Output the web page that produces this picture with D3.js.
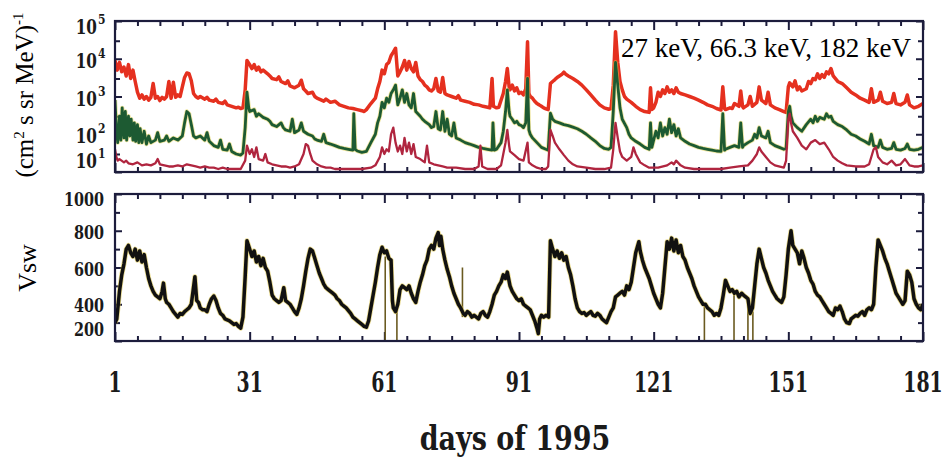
<!DOCTYPE html>
<html>
<head>
<meta charset="utf-8">
<script src="https://cdn.jsdelivr.net/npm/d3@7/dist/d3.min.js"></script>
<style>
  html, body { margin: 0; padding: 0; background: #fff; }
  svg { display: block; }
  .num { font-family: "DejaVu Serif Condensed", "DejaVu Serif", serif; font-weight: bold; font-stretch: condensed; fill: #1a1a1a; }
  .serif { font-family: "Liberation Serif", "Times New Roman", serif; fill: #000; }
</style>
</head>
<body>
<svg id="chart" width="945" height="465"></svg>
<script>
// ---- axis ticks and labels ----
const dayTicks = [1, 31, 61, 91, 121, 151, 181];
const fluxTicks = [1e5, 1e4, 1e3, 1e2, 1e1];
const fluxExponents = ["5", "4", "3", "2", "1"];
const fluxMinorTicks = [3e4, 3e3, 3e2, 3e1];
const vswTicks = [1000, 800, 600, 400, 200];
const vswMinorTicks = [900, 700, 500, 300];
const energyLabel = "27 keV, 66.3 keV, 182 keV";
const xTitle = "days of 1995";

// ---- 27 keV intensity, [day, (cm2 s sr MeV)^-1] ----
const flux27 = [
[1,9000],[1.5,5000],[2,8000],[2.5,4500],[3,6000],[3.5,3500],[4,7000],[4.5,3000],[5,5000],[5.5,2500],[6,1300],[6.5,900],[7,1100],[7.5,850],[8,1000],[8.5,800],[9,950],[9.5,2200],[10,900],[10.5,1000],[11,780],[11.5,950],[12,850],[12.5,1000],[13,2500],[13.5,900],[14,2400],[14.5,950],[15,1100],[15.5,1000],[16,1800],[16.5,3200],[17,4200],[17.5,4000],[18,2600],[18.5,1200],[19,1000],[19.5,900],[20,1000],[21,850],[21.5,950],[22,800],[23,750],[23.5,850],[24,700],[25,650],[25.5,750],[26,600],[27,550],[28,500],[28.5,520],[29,480],[29.5,500],[30,1500],[30.4,9000],[31,7000],[31.5,5500],[32,7000],[32.5,5000],[33,6000],[33.5,4500],[34,5000],[35,4000],[35.5,3500],[36,3000],[37,2800],[37.5,3300],[38,2500],[39,2200],[39.5,2600],[40,1900],[41,1700],[42,2000],[42.5,2700],[43,1600],[43.5,1400],[44,1200],[45,1300],[45.5,1000],[46,900],[47,800],[47.5,750],[48,850],[49,700],[50,750],[51,600],[52,550],[53,500],[54,480],[55,450],[56,420],[56.5,400],[57,450],[58,650],[59,900],[59.5,1600],[60,2500],[60.5,5000],[61,4000],[61.5,7000],[62,8000],[62.5,12000],[63,15000],[63.5,19000],[64,3500],[64.5,4500],[65,6000],[65.5,9000],[66,5000],[66.5,8500],[67,5500],[67.5,4500],[68,8000],[68.5,3500],[69,2800],[69.5,2500],[70,2000],[70.5,1800],[71,1500],[71.5,1400],[72,1600],[72.5,3000],[73,1400],[73.5,1300],[74,3200],[74.5,1200],[75,1100],[76,1000],[77,900],[77.5,1050],[78,800],[79,750],[80,700],[81,620],[82,600],[83,550],[84,520],[84.5,500],[85,3000],[85.3,550],[86,500],[86.5,520],[87,800],[87.5,1200],[88,2500],[88.4,5500],[88.8,1800],[89,1500],[89.5,2000],[90,1400],[90.5,1700],[91,1200],[91.5,1300],[92,1100],[92.5,1600],[92.9,28000],[93.2,1200],[93.5,1000],[94,900],[94.5,750],[95,650],[95.5,600],[96,550],[96.5,500],[97,470],[97.5,450],[98,2200],[98.5,2500],[99,2800],[99.5,3200],[100,3500],[100.5,3800],[101,4400],[101.5,3800],[102,3500],[103,3000],[104,2500],[105,2000],[106,1500],[107,1100],[108,800],[109,600],[110,500],[111,460],[111.5,480],[112,2000],[112.5,52000],[113,8000],[113.5,2500],[114,1500],[114.5,1000],[115,850],[116,700],[117,550],[118,450],[119,400],[120,380],[120.3,1700],[120.6,450],[121,500],[121.5,700],[122,1300],[122.5,1000],[123,1500],[123.5,1200],[124,1800],[124.5,1300],[125,1500],[125.5,1200],[126,1700],[126.5,1300],[127,1200],[128,1100],[129,1000],[130,900],[131,800],[132,700],[133,600],[134,550],[135,480],[136,440],[136.4,1800],[136.8,480],[137,450],[138,500],[138.5,480],[139,650],[140,550],[140.4,1400],[140.8,550],[141,500],[142,600],[142.5,1000],[143,550],[144,700],[144.5,1800],[145,800],[146,650],[146.5,1300],[147,600],[148,500],[149,450],[150,400],[150.5,380],[151,1800],[151.3,2300],[152,1800],[152.5,2600],[153,1500],[153.5,1800],[154,1400],[155,1600],[155.5,2500],[156,2200],[156.5,3000],[157,2800],[157.5,4000],[158,3000],[158.5,3800],[159,3200],[159.5,4500],[160,4000],[160.5,5500],[161,3500],[162,2500],[163,2200],[164,1700],[165,1300],[166,1100],[167,900],[168,800],[169,700],[169.5,1600],[170,700],[171,800],[171.5,1300],[172,750],[173,650],[174,700],[174.5,1200],[175,650],[176,600],[177,700],[177.5,1100],[178,600],[179,500],[180,550],[181,650]
];

// ---- 66.3 keV intensity ----
const flux66 = [
[1,800],[1.3,150],[1.6,60],[2,300],[2.3,70],[2.6,500],[3,80],[3.3,400],[3.6,70],[4,300],[4.3,90],[4.6,250],[5,70],[5.3,200],[5.6,65],[6,180],[6.3,60],[6.6,140],[7,60],[7.5,120],[8,55],[8.5,90],[9,60],[10,70],[10.5,110],[11,65],[12,70],[12.5,90],[13,65],[14,80],[15,70],[16,90],[16.5,200],[17,400],[17.5,350],[18,180],[18.5,90],[19,80],[20,90],[21,70],[21.5,110],[22,65],[23,50],[24,45],[24.5,70],[25,40],[26,38],[26.5,55],[27,35],[28,30],[29,28],[29.5,32],[30,150],[30.4,1300],[30.8,500],[31,400],[32,450],[32.5,300],[33,350],[34,280],[35,250],[35.5,220],[36,180],[37,160],[38,200],[38.5,150],[39,130],[40,120],[40.5,250],[41,110],[42,130],[42.5,200],[43,120],[44,100],[45,90],[45.5,75],[46,70],[47,65],[47.5,100],[48,60],[49,55],[50,50],[51,45],[52,42],[53,40],[54,38],[54.2,350],[54.5,40],[55,36],[56,33],[57,35],[58,60],[59,100],[59.5,200],[60,300],[60.5,700],[61,500],[61.5,900],[62,700],[62.5,1200],[63,1500],[63.5,2000],[64,600],[64.5,900],[65,1500],[65.5,700],[66,1200],[66.5,600],[67,500],[67.5,1200],[68,400],[69,300],[69.5,250],[70,220],[71,180],[71.5,150],[72,160],[72.5,400],[73,140],[73.5,130],[74,400],[74.5,120],[75,250],[75.5,100],[76,90],[76.5,200],[77,80],[78,70],[79,60],[80,55],[81,50],[82,45],[83,42],[84,40],[85,38],[85.2,200],[85.5,38],[86,40],[87,60],[87.5,120],[88,400],[88.4,1500],[88.8,400],[89,300],[89.5,250],[90,200],[90.5,220],[91,180],[91.5,170],[92,150],[92.5,200],[92.9,3000],[93.2,130],[93.5,100],[94,80],[95,60],[96,45],[97,40],[97.5,38],[98,360],[98.5,250],[99,220],[100,200],[101,180],[102,170],[103,155],[104,140],[105,120],[106,100],[107,80],[108,65],[109,50],[110,42],[111,40],[111.5,45],[112,400],[112.5,8000],[113,2000],[113.5,500],[114,250],[115,150],[115.5,100],[116,80],[117,65],[118,55],[119,45],[120,40],[120.3,200],[120.6,45],[121,70],[121.5,120],[122,80],[122.5,200],[123,90],[123.5,150],[124,100],[124.5,250],[125,110],[125.5,180],[126,90],[126.5,140],[127,80],[128,65],[129,55],[130,50],[131,45],[132,42],[133,40],[134,38],[135,36],[136,35],[136.4,350],[136.8,38],[137,40],[138,45],[139,50],[140,45],[140.4,200],[140.8,45],[141,50],[142,60],[143,70],[143.5,100],[144,80],[144.5,150],[145,90],[146,80],[146.5,120],[147,60],[148,50],[149,45],[150,40],[150.5,42],[151,400],[151.3,550],[151.6,300],[152,200],[153,150],[154,120],[155,180],[156,250],[156.5,200],[157,300],[157.5,220],[158,280],[159,250],[159.5,350],[160,280],[160.5,300],[161,220],[162,180],[163,160],[164,130],[165,100],[166,90],[167,75],[168,65],[169,55],[169.5,100],[170,50],[171,45],[171.5,70],[172,45],[173,40],[174,42],[174.5,60],[175,40],[176,38],[177,42],[177.5,55],[178,40],[179,38],[180,40],[181,45]
];

// ---- 182 keV intensity ----
const flux182 = [
[1,40],[1.3,25],[1.6,20],[2,22],[3,18],[3.5,20],[4,17],[5,16],[6,18],[7,15],[8,16],[9,15],[10,17],[10.5,22],[11,16],[12,15],[13,14],[14,14],[15,15],[16,14],[17,16],[18,15],[19,14],[20,13],[21,14],[22,13],[23,13],[24,12],[25,13],[26,12],[27,12],[28,12],[29,12],[30,20],[30.4,50],[31,30],[31.5,40],[32,25],[32.5,45],[33,22],[34,20],[34.5,30],[35,18],[36,16],[37,15],[38,14],[39,14],[40,13],[41,14],[42,16],[43,30],[43.5,55],[44,50],[44.5,30],[45,20],[46,16],[47,14],[48,13],[49,13],[50,12],[52,12],[54,12],[56,12],[58,13],[59,15],[60,25],[60.5,45],[61,30],[61.5,40],[62,35],[62.5,100],[63,150],[63.5,60],[64,35],[64.5,50],[65,30],[65.5,80],[66,35],[66.5,60],[67,30],[67.5,55],[68,25],[69,22],[70,18],[70.5,50],[71,18],[72,16],[73,15],[74,14],[75,13],[77,13],[79,12],[81,12],[82,14],[82.4,50],[82.8,14],[84,12],[86,12],[87,15],[87.5,30],[88,60],[88.4,130],[88.8,50],[89,35],[90,28],[91,22],[92,20],[92.9,60],[93.2,18],[94,15],[95,13],[96,12],[97,12],[97.5,14],[98,130],[98.5,90],[99,60],[100,40],[101,28],[102,20],[103,16],[104,14],[106,13],[108,12],[110,12],[111.5,13],[112,40],[112.5,200],[113,80],[113.5,35],[114,25],[115,20],[116,25],[116.5,45],[117,30],[118,18],[119,15],[120,13],[122,13],[124,15],[125,18],[125.5,16],[126,20],[127,15],[128,13],[130,12],[133,12],[136,12],[138,13],[140,14],[142,15],[143,20],[144,30],[144.5,45],[145,35],[146,25],[147,18],[148,15],[150,13],[150.5,20],[151,250],[151.3,350],[151.6,200],[152,120],[153,80],[154,50],[155,40],[156,60],[157,70],[158,55],[159,60],[160,40],[161,25],[162,20],[163,17],[164,15],[166,14],[168,14],[169,16],[170,40],[170.5,45],[171,25],[172,18],[173,16],[174,20],[175,15],[176,16],[177,22],[178,15],[179,14],[180,14],[181,15]
];

// ---- solar wind speed, [day, km/s] ----
const vsw = [
[1,300],[1.4,320],[2,470],[2.5,560],[3,620],[3.5,700],[4,720],[4.5,680],[5,660],[5.5,700],[6,640],[6.5,690],[7,630],[7.5,670],[8,600],[8.5,540],[9,500],[9.5,470],[10,450],[10.5,440],[11,430],[11.5,470],[11.8,515],[12.2,430],[12.5,410],[13,400],[13.5,380],[14,360],[14.5,345],[15,330],[15.5,350],[16,345],[16.5,360],[17,370],[17.5,380],[18,400],[18.8,550],[19.2,420],[19.6,410],[20,380],[20.5,370],[21,370],[21.5,360],[22,400],[22.5,430],[23,445],[23.5,420],[24,380],[24.5,350],[25,340],[25.5,320],[26,315],[26.5,310],[27,300],[27.5,290],[28,295],[28.5,280],[29,270],[29.5,330],[30,550],[30.4,745],[31,700],[31.5,660],[32,690],[32.5,630],[33,660],[33.5,610],[34,650],[34.5,600],[35,580],[35.5,520],[36,450],[36.5,430],[37,420],[37.5,410],[38,420],[38.6,490],[39,420],[39.5,410],[40,400],[40.5,380],[41,360],[41.5,345],[42,380],[42.5,430],[43,500],[43.5,580],[44,650],[44.5,700],[45,690],[45.5,650],[46,610],[46.5,570],[47,540],[47.5,510],[48,490],[48.5,480],[49,470],[49.5,460],[50,450],[50.5,430],[51,420],[51.5,400],[52,390],[52.5,380],[53,365],[53.5,350],[54,330],[54.5,320],[55,310],[55.5,300],[56,290],[56.5,280],[57,275],[57.5,310],[58,380],[58.5,450],[59,520],[59.5,600],[60,670],[60.5,710],[61,680],[61.5,690],[62,650],[62.5,640],[62.8,420],[63,380],[63.5,360],[64,400],[64.5,480],[65,500],[65.5,490],[66,480],[66.5,500],[67,460],[67.5,430],[68,410],[68.5,470],[69,520],[69.5,560],[70,610],[70.5,640],[71,700],[71.5,720],[72,700],[72.5,760],[73,790],[73.3,720],[73.6,770],[74,700],[74.5,640],[75,590],[75.5,550],[76,500],[76.5,460],[77,430],[77.5,400],[78,380],[78.6,350],[79,340],[79.5,360],[80,350],[80.5,330],[81,340],[81.5,330],[82,320],[82.5,350],[83,360],[83.5,340],[84,330],[84.5,360],[85,400],[85.5,450],[86,470],[86.5,500],[87,520],[87.5,560],[88,540],[88.4,575],[89,500],[89.5,470],[90,450],[90.5,430],[91,420],[91.5,430],[92,400],[92.5,390],[93,380],[93.5,370],[94,340],[94.5,310],[95,270],[95.3,240],[95.6,320],[96,340],[96.5,330],[97,340],[97.6,330],[98,745],[98.5,700],[99,660],[99.5,690],[100,650],[100.5,680],[101,640],[101.5,660],[102,600],[102.5,560],[103,500],[103.5,430],[104,380],[104.5,360],[105,350],[105.5,355],[106,340],[106.5,350],[107,360],[107.5,340],[108,335],[108.5,350],[109,340],[109.5,320],[110,310],[110.5,300],[111,330],[111.5,360],[112,380],[112.5,440],[113,450],[113.5,460],[114,470],[114.5,450],[115,500],[115.5,480],[116,520],[116.5,600],[117,680],[117.7,740],[118,690],[118.5,640],[119,600],[119.5,570],[120,540],[120.5,500],[121,460],[121.5,430],[122,400],[122.5,380],[123,460],[123.5,600],[124,740],[124.5,700],[125,760],[125.5,690],[126,750],[126.5,680],[127,720],[127.5,660],[128,640],[128.5,600],[129,570],[129.5,540],[130,500],[130.5,470],[131,440],[131.5,420],[132,400],[132.5,400],[133,380],[133.5,370],[134,360],[134.5,340],[135,350],[135.5,340],[136,380],[136.5,450],[137,530],[137.5,500],[138,470],[138.5,480],[139,460],[139.5,470],[140,440],[140.6,460],[141,450],[141.5,440],[142,430],[142.5,350],[143,380],[143.5,500],[144,620],[144.5,700],[145,650],[145.5,600],[146,570],[146.5,530],[147,500],[147.5,470],[148,450],[148.5,430],[149,420],[149.5,410],[150,440],[150.5,560],[151,700],[151.6,800],[152,720],[152.5,700],[153,680],[153.5,620],[154,690],[154.5,650],[155,600],[155.5,570],[156,530],[156.5,510],[157,470],[157.5,450],[158,440],[158.5,420],[159,400],[159.5,380],[160,360],[160.5,350],[161,340],[161.5,380],[162,370],[162.5,390],[163,360],[163.5,320],[164,300],[164.6,295],[165,320],[165.5,330],[166,340],[166.5,335],[167,350],[167.5,360],[168,340],[168.5,370],[169,380],[169.5,370],[170,400],[170.5,600],[171,750],[171.5,720],[172,690],[172.5,650],[173,620],[173.5,580],[174,540],[174.5,500],[175,460],[175.5,440],[176,420],[176.5,400],[177,420],[177.5,580],[178,560],[178.5,520],[179,430],[179.5,400],[180,380],[180.5,370],[181,400]
];

// data-gap markers in the speed record: [day, low, high]
const vswGaps = [
[61.2,200,660],[63.8,200,400],[78.4,330,600],[132.3,200,400],[138.9,200,470],[142.0,200,440],[143.1,200,360]
];

// ---- layout ----
const svg = d3.select("#chart");
const frameColor = "#1c1c3c";
const x = d3.scaleLinear().domain([1, 181]).range([115, 923]);
const yFlux = d3.scaleLog().domain([10, 1e5]).range([172, 21]);
const yVsw = d3.scaleLinear().domain([200, 1000]).range([341, 194]);

const minorDays = d3.range(1, 182, 5).filter(d => !dayTicks.includes(d));

function styleTicks(g) {
  g.select(".domain").remove();
  g.selectAll(".tick line").attr("stroke", frameColor).attr("stroke-width", 2);
  g.selectAll(".tick text").remove();
}

function frame(y, majorY, minorY, clipId) {
  const [yb, yt] = y.range();
  const [x0, x1] = x.range();
  const g = svg.append("g");
  // day ticks, top and bottom, pointing inward
  [[d3.axisTop, yt], [d3.axisBottom, yb]].forEach(([ax, pos]) => {
    g.append("g").attr("transform", `translate(0,${pos})`)
      .call(ax(x).tickValues(dayTicks).tickSize(-9).tickFormat("")).call(styleTicks);
    g.append("g").attr("transform", `translate(0,${pos})`)
      .call(ax(x).tickValues(minorDays).tickSize(-5).tickFormat("")).call(styleTicks);
  });
  // value ticks, left and right, pointing inward
  [[d3.axisLeft, x0], [d3.axisRight, x1]].forEach(([ax, pos]) => {
    g.append("g").attr("transform", `translate(${pos},0)`)
      .call(ax(y).tickValues(majorY).tickSize(-7).tickFormat("")).call(styleTicks);
    g.append("g").attr("transform", `translate(${pos},0)`)
      .call(ax(y).tickValues(minorY).tickSize(-5).tickFormat("")).call(styleTicks);
  });
  svg.append("clipPath").attr("id", clipId)
    .append("rect").attr("x", x0).attr("y", yt).attr("width", x1 - x0).attr("height", yb - yt);
  return g;
}

frame(yFlux, fluxTicks, fluxMinorTicks, "clipFlux");
frame(yVsw, vswTicks, vswMinorTicks, "clipVsw");

// ---- intensity traces ----
const fluxLine = d3.line().x(d => x(d[0])).y(d => yFlux(d[1]));
const fluxG = svg.append("g").attr("clip-path", "url(#clipFlux)");
fluxG.append("path").datum(flux27).attr("d", fluxLine)
  .attr("fill", "none").attr("stroke", "#e5301f").attr("stroke-width", 3.5).attr("stroke-linejoin", "round");
fluxG.append("path").datum(flux66).attr("d", fluxLine)
  .attr("fill", "none").attr("stroke", "#e0d050").attr("stroke-opacity", 0.55).attr("stroke-width", 4.4).attr("stroke-linejoin", "round");
fluxG.append("path").datum(flux66).attr("d", fluxLine)
  .attr("fill", "none").attr("stroke", "#1d5a32").attr("stroke-width", 2.8).attr("stroke-linejoin", "round");
fluxG.append("path").datum(flux182).attr("d", fluxLine)
  .attr("fill", "none").attr("stroke", "#b0253f").attr("stroke-width", 2.3).attr("stroke-linejoin", "round");

// ---- solar wind speed trace ----
const vswLine = d3.line().x(d => x(d[0])).y(d => yVsw(d[1]));
const vswG = svg.append("g").attr("clip-path", "url(#clipVsw)");
vswG.selectAll("line.gap").data(vswGaps).join("line").attr("class", "gap")
  .attr("x1", d => x(d[0])).attr("x2", d => x(d[0]))
  .attr("y1", d => yVsw(d[1])).attr("y2", d => yVsw(d[2]))
  .attr("stroke", "#6a5a20").attr("stroke-width", 1.6);
vswG.append("path").datum(vsw).attr("d", vswLine)
  .attr("fill", "none").attr("stroke", "#d8c040").attr("stroke-opacity", 0.6).attr("stroke-width", 5).attr("stroke-linejoin", "round");
vswG.append("path").datum(vsw).attr("d", vswLine)
  .attr("fill", "none").attr("stroke", "#111").attr("stroke-width", 3.5).attr("stroke-linejoin", "round");

// ---- frames ----
[yFlux, yVsw].forEach(y => {
  const [yb, yt] = y.range();
  svg.append("rect").attr("x", x.range()[0]).attr("y", yt)
    .attr("width", x.range()[1] - x.range()[0]).attr("height", yb - yt)
    .attr("fill", "none").attr("stroke", frameColor).attr("stroke-width", 2.2);
});

// ---- value labels (kept inside the panel height) ----
function clampLabel(y, v, top, bottom) {
  return Math.max(top + 7, Math.min(bottom - 10, y(v) + 3));
}
const fluxLab = svg.append("g");
fluxTicks.forEach((v, i) => {
  const yy = clampLabel(yFlux, v, 21, 172);
  fluxLab.append("text").attr("class", "num")
    .attr("text-anchor", "end").attr("font-size", 17)
    .attr("transform", `translate(97,${yy + 6}) scale(1,1.15)`).text("10");
  fluxLab.append("text").attr("class", "num")
    .attr("font-size", 12)
    .attr("transform", `translate(98,${yy - 4}) scale(1,1.15)`).text(fluxExponents[i]);
});
svg.append("g").selectAll("text").data(vswTicks).join("text").attr("class", "num")
  .attr("transform", v => `translate(104,${clampLabel(yVsw, v, 194, 341) + 5}) scale(1,1.15)`)
  .attr("text-anchor", "end").attr("font-size", 16).text(v => v);

// ---- day labels ----
svg.append("g").selectAll("text").data(dayTicks).join("text").attr("class", "num")
  .attr("transform", d => `translate(${x(d)},392) scale(1,1.3)`)
  .attr("text-anchor", "middle").attr("font-size", 21)
  .text(d => d);
svg.append("text").attr("class", "num")
  .attr("transform", "translate(515,450) scale(1,1.12)")
  .attr("text-anchor", "middle").attr("font-size", 30).text(xTitle);

// ---- axis titles ----
const t1 = svg.append("text").attr("class", "serif").attr("font-size", 25)
  .attr("text-anchor", "middle").attr("transform", "translate(33,95) rotate(-90)");
t1.append("tspan").text("(cm");
t1.append("tspan").attr("dy", -9).attr("font-size", 15).text("2");
t1.append("tspan").attr("dy", 9).text(" s sr MeV)");
t1.append("tspan").attr("dy", -10).attr("font-size", 15).text("-1");
svg.append("text").attr("class", "serif").attr("font-size", 26)
  .attr("text-anchor", "middle").attr("transform", "translate(36,268) rotate(-90)").text("Vsw");

// ---- energy channel note ----
svg.append("text").attr("class", "serif").attr("font-size", 27)
  .attr("x", 621).attr("y", 57).text(energyLabel);
</script>
</body>
</html>
